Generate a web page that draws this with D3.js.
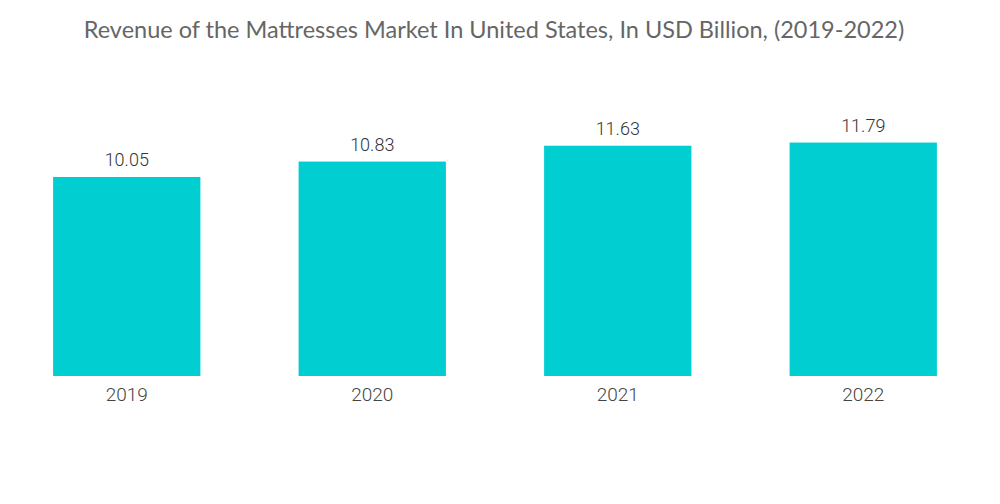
<!DOCTYPE html>
<html>
<head>
<meta charset="utf-8">
<script src="https://cdn.jsdelivr.net/npm/d3@7"></script>
<style>
  body { margin: 0; background: #fff; }
</style>
</head>
<body>
<svg id="chart"></svg>
<script>
const years = ['2019', '2020', '2021', '2022'];
const revenue = [10.05, 10.83, 11.63, 11.79];
const chartTitle = 'Revenue of the Mattresses Market In United States, In USD Billion, (2019-2022)';

const width = 1000;
const height = 504;
const baseY = 376;

const svg = d3.select('#chart')
    .attr('width', width)
    .attr('height', height);

// title
svg.append('text')
    .attr('x', 494)
    .attr('y', 38)
    .attr('text-anchor', 'middle')
    .attr('font-family', 'Lato, sans-serif')
    .attr('font-size', 23.5)
    .attr('fill', '#666')
    .text(chartTitle);

const xscale = d3.scaleBand()
    .domain(years)
    .range([4, 986])
    .paddingInner(0.4)
    .paddingOuter(0.2);

const yscale = d3.scaleLinear()
    .domain([0, 12])
    .range([baseY, baseY - 12 * 19.8]);

const data = years.map((y, i) => ({ year: y, value: revenue[i] }));

// bars
svg.selectAll('rect.bar')
    .data(data)
    .enter()
    .append('rect')
    .attr('class', 'bar')
    .attr('x', d => xscale(d.year))
    .attr('y', d => yscale(d.value))
    .attr('width', xscale.bandwidth())
    .attr('height', d => yscale(0) - yscale(d.value))
    .attr('fill', '#00ced1');

// value labels
svg.selectAll('text.value')
    .data(data)
    .enter()
    .append('text')
    .attr('class', 'value')
    .attr('x', d => xscale(d.year) + xscale.bandwidth() / 2)
    .attr('y', d => yscale(d.value) - 11)
    .attr('text-anchor', 'middle')
    .attr('font-family', 'Roboto, sans-serif')
    .attr('font-weight', 300)
    .attr('font-size', 18)
    .attr('fill', '#333')
    .text(d => d.value.toFixed(2));

// x axis (labels only)
const xaxis = d3.axisBottom(xscale).tickSize(0).tickPadding(12);
const xaxisGroup = svg.append('g')
    .attr('transform', `translate(0, ${baseY})`)
    .call(xaxis);
xaxisGroup.select('.domain').remove();
xaxisGroup.selectAll('text')
    .attr('font-family', 'Roboto, sans-serif')
    .attr('font-weight', 300)
    .attr('font-size', 19)
    .attr('fill', '#444');
</script>
</body>
</html>
